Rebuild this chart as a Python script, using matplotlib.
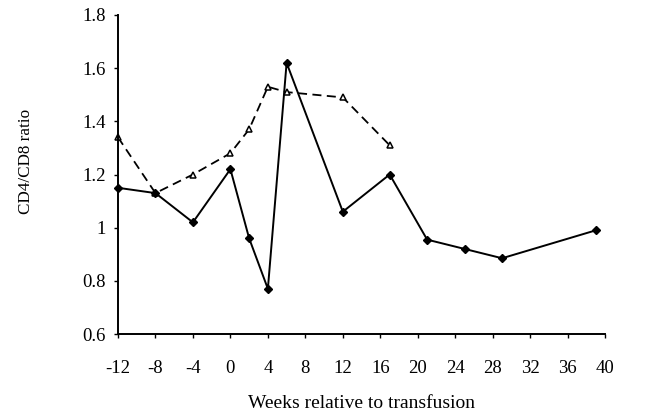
import matplotlib.pyplot as plt

plt.rcParams['font.family'] = ['Liberation Serif', 'DejaVu Serif']

weeks_solid = [-12, -8, -4, 0, 2, 4, 6, 12, 17, 21, 25, 29, 39]
ratio_solid = [1.15, 1.13, 1.02, 1.22, 0.96, 0.77, 1.62, 1.06, 1.20, 0.955, 0.92, 0.885, 0.99]

weeks_dashed = [-12, -8, -4, 0, 2, 4, 6, 12, 17]
ratio_dashed = [1.34, 1.13, 1.20, 1.28, 1.37, 1.53, 1.51, 1.49, 1.31]

xticks = list(range(-12, 41, 4))
yticks = [0.6, 0.8, 1.0, 1.2, 1.4, 1.6, 1.8]
ytick_labels = ['0.6', '0.8', '1', '1.2', '1.4', '1.6', '1.8']

fig = plt.figure(figsize=(6.5, 4.12), dpi=100)
ax = fig.add_axes([0.1815, 0.1893, 0.7495, 0.7743])

ax.plot(weeks_dashed, ratio_dashed, color='black', linestyle=(0, (5, 3)), linewidth=1.3,
        marker='^', markersize=4.5, markerfacecolor='white', markeredgecolor='black',
        markeredgewidth=1.1, clip_on=False)
ax.plot(weeks_solid, ratio_solid, color='black', linestyle='-', linewidth=1.4,
        marker='D', markersize=4, markerfacecolor='black', markeredgecolor='black',
        clip_on=False)

ax.set_xlim(-12, 40)
ax.set_ylim(0.6, 1.8)
ax.set_xticks(xticks)
ax.set_xticklabels([str(t) for t in xticks])
ax.set_yticks(yticks)
ax.set_yticklabels(ytick_labels)

ax.spines['top'].set_visible(False)
ax.spines['right'].set_visible(False)
ax.spines['left'].set_linewidth(1.4)
ax.spines['bottom'].set_linewidth(1.4)
ax.tick_params(axis='both', direction='out', length=3, width=1, labelsize=13.5)
ax.tick_params(axis='x', pad=16)
ax.tick_params(axis='y', pad=6)

ax.set_xlabel('Weeks relative to transfusion', fontsize=14, labelpad=13)
ax.set_ylabel('CD4/CD8 ratio', fontsize=12.3)
ax.yaxis.set_label_coords(-0.172, 0.542)

plt.savefig('out.png')
